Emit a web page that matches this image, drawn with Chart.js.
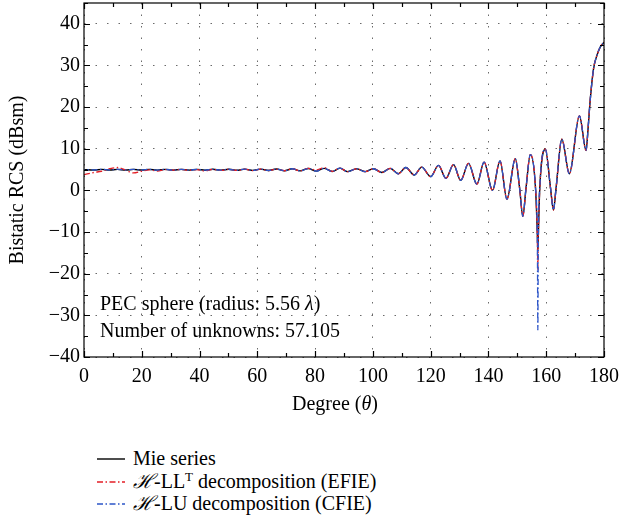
<!DOCTYPE html>
<html>
<head>
<meta charset="utf-8">
<title>Bistatic RCS</title>
<script src="https://cdn.jsdelivr.net/npm/chart.js@4/dist/chart.umd.min.js"></script>
<style>
  html, body { margin: 0; padding: 0; background: #fff; }
  body { width: 622px; height: 525px; position: relative; overflow: hidden;
         font-family: "Liberation Serif", "Times New Roman", serif; color: #000; }
  #wrap { position: absolute; left: 0; top: 0; width: 622px; height: 420px; }
  .note { position: absolute; left: 100px; font-size: 20px; line-height: 20px; white-space: nowrap; }
  #tituloX { position: absolute; left: 235px; width: 200px; top: 392px; text-align: center;
             font-size: 20px; line-height: 22px; }
  .leg { position: absolute; left: 97px; height: 22px; font-size: 20px; line-height: 22px; white-space: nowrap; }
  .leg svg { position: absolute; left: 0; top: 10px; }
  .leg span { position: absolute; left: 36px; top: 0; }
  .scr { font-family: "DejaVu Serif", "Liberation Serif", serif; font-style: italic; }
  sup { font-size: 13px; line-height: 0; vertical-align: 7px; }
</style>
</head>
<body>
<div id="wrap"><canvas id="grafico"></canvas></div>

<div class="note" style="top:293px">PEC sphere (radius: 5.56 <i>λ</i>)</div>
<div class="note" style="top:320px">Number of unknowns: 57.105</div>
<div id="tituloX">Degree (<i>θ</i>)</div>

<div class="leg" style="top:447px">
  <svg width="30" height="4"><line x1="0" y1="2" x2="28" y2="2" stroke="#000" stroke-width="1.4"/></svg>
  <span>Mie series</span>
</div>
<div class="leg" style="top:470px">
  <svg width="30" height="4"><line x1="0" y1="2" x2="28" y2="2" stroke="rgb(228,30,38)" stroke-width="1.3" stroke-dasharray="6 2.5 1.5 2.5"/></svg>
  <span><span class="scr" style="position:static">ℋ</span>-LL<sup>T</sup> decomposition (EFIE)</span>
</div>
<div class="leg" style="top:492px">
  <svg width="30" height="4"><line x1="0" y1="2" x2="28" y2="2" stroke="rgb(45,85,200)" stroke-width="1.3" stroke-dasharray="6 2.5 1.5 2.5"/></svg>
  <span><span class="scr" style="position:static">ℋ</span>-LU decomposition (CFIE)</span>
</div>

<script>
// angle grid (degrees) shared by the three curves
const graus = [
  0, 3.4, 6.1, 8.9, 11.6, 14.4, 17.1, 19.9, 22.6, 25.4,
  28.1, 30.9, 33.6, 36.4, 39.1, 41.9, 44.6, 47.4, 50.1, 52.9,
  55.6, 58.4, 61.1, 63.9, 66.6, 69.4, 72.1, 74.9, 77.6, 80.4,
  83.1, 85.9, 88.6, 91.2, 94.4, 97.3, 100.2, 103.1, 106.0, 108.8,
  111.4, 114.3, 116.9, 120.0, 122.7, 125.3, 127.9, 130.4, 133.1, 136.0,
  138.5, 141.4, 144.0, 146.4, 149.3, 150.8, 151.9, 153.0, 154.5, 156.3,
  156.95, 157.1, 157.25, 157.8, 159.7, 161.5, 162.5, 163.4, 165.4, 168.0,
  171.5, 173.8, 174.5, 175.2, 176.4, 177.5, 178.6, 180
];

// Mie series (dBsm)
const mie = [
  5.0, 4.9, 5.05, 4.9, 5.05, 4.9, 5.05, 4.9, 5.05, 4.88,
  5.05, 4.88, 5.05, 4.87, 5.06, 4.85, 5.07, 4.85, 5.08, 4.83,
  5.1, 4.8, 5.12, 4.78, 5.15, 4.72, 5.2, 4.68, 5.25, 4.62,
  5.3, 4.55, 5.35, 4.5, 5.2, 4.5, 5.2, 4.3, 5.3, 4.0,
  5.5, 3.7, 5.6, 3.3, 6.0, 2.9, 6.2, 2.4, 6.5, 1.5,
  6.8, 0.0, 7.1, -2.1, 7.6, 0.5, -6.2, 0.5, 8.6, 0.5,
  -11, -14.5, -11, 1.0, 9.9, 0.5, -4.7, 0.5, 12.3, 4.0,
  17.9, 9.6, 15.0, 21.5, 29.3, 32.3, 34.3, 35.6
];

// H-LL^T decomposition (EFIE)
const efie = [
  3.8, 4.3, 4.6, 5.2, 5.5, 4.9, 4.2, 4.6, 4.95, 4.65,
  5.0, 4.85, 5.05, 4.85, 5.0, 4.7, 5.05, 4.8, 5.1, 4.8,
  5.1, 4.75, 5.12, 4.78, 5.1, 4.72, 5.2, 4.7, 5.3, 4.9,
  5.5, 4.55, 5.35, 4.5, 5.2, 4.5, 5.2, 4.3, 5.3, 4.0,
  5.5, 3.7, 5.6, 3.3, 6.0, 2.9, 6.2, 2.4, 6.5, 1.5,
  6.8, 0.0, 7.1, -2.1, 7.6, 0.5, -6.2, 0.5, 8.6, 0.5,
  -12, -19, -12, 1.0, 9.9, 0.5, -4.7, 0.5, 12.3, 4.0,
  17.9, 9.6, 15.0, 21.5, 29.3, 32.3, 34.3, 35.6
];

// H-LU decomposition (CFIE)
const cfie = [
  5.0, 4.9, 5.05, 4.9, 5.05, 4.9, 5.05, 4.9, 5.05, 4.88,
  5.05, 4.88, 5.05, 4.87, 5.06, 4.85, 5.07, 4.85, 5.08, 4.83,
  5.1, 4.8, 5.12, 4.78, 5.15, 4.72, 5.2, 4.68, 5.25, 4.62,
  5.3, 4.55, 5.35, 4.5, 5.2, 4.5, 5.2, 4.3, 5.3, 4.0,
  5.5, 3.7, 5.6, 3.3, 6.0, 2.9, 6.2, 2.4, 6.5, 1.5,
  6.8, 0.0, 7.1, -2.1, 7.6, 0.5, -6.2, 0.5, 8.6, 0.5,
  -14, -33.5, -14, 1.0, 9.9, 0.5, -4.7, 0.5, 12.3, 4.0,
  17.9, 9.6, 15.0, 21.5, 29.3, 32.3, 34.3, 35.6
];

const ticksY = [-40, -30, -20, -10, 0, 10, 20, 30, 40];
const ticksX = [0, 20, 40, 60, 80, 100, 120, 140, 160, 180];

const fonte = { family: "'Liberation Serif', 'Times New Roman', serif", size: 20 };
const tracoPonto = [6, 2.5, 1.5, 2.5];

function pontos(valores) {
  return graus.map((g, i) => ({ x: g, y: valores[i] }));
}

// box with inward ticks on all four sides (MATLAB style)
const moldura = {
  id: "moldura",
  afterDraw(chart) {
    const { ctx, chartArea: a, scales } = chart;
    const sx = scales.x, sy = scales.y;
    ctx.save();
    ctx.strokeStyle = "#000";
    ctx.lineWidth = 1.2;
    ctx.strokeRect(a.left, a.top, a.right - a.left, a.bottom - a.top);
    ctx.beginPath();
    for (let v = 0; v <= 180; v += 10) {
      const px = Math.round(sx.getPixelForValue(v)) + 0.5;
      const len = v % 20 === 0 ? 6 : 4;
      ctx.moveTo(px, a.bottom); ctx.lineTo(px, a.bottom - len);
      ctx.moveTo(px, a.top); ctx.lineTo(px, a.top + len);
    }
    for (let v = -40; v <= 45; v += 5) {
      const py = Math.round(sy.getPixelForValue(v)) + 0.5;
      const len = v % 10 === 0 ? 6 : 4;
      ctx.moveTo(a.left, py); ctx.lineTo(a.left + len, py);
      ctx.moveTo(a.right, py); ctx.lineTo(a.right - len, py);
    }
    ctx.stroke();
    ctx.restore();
  }
};

const grafico = new Chart(document.getElementById("grafico"), {
  type: "line",
  data: {
    datasets: [
      {
        label: "Mie series",
        data: pontos(mie),
        borderColor: "#000",
        borderWidth: 1.4,
        order: 3
      },
      {
        label: "H-LLT decomposition (EFIE)",
        data: pontos(efie),
        borderColor: "rgb(228,30,38)",
        borderWidth: 1.3,
        borderDash: tracoPonto,
        order: 2
      },
      {
        label: "H-LU decomposition (CFIE)",
        data: pontos(cfie),
        borderColor: "rgb(45,85,200)",
        borderWidth: 1.3,
        borderDash: tracoPonto,
        borderDashOffset: 5,
        order: 1
      }
    ]
  },
  options: {
    responsive: true,
    maintainAspectRatio: false,
    animation: false,
    layout: { padding: { top: 3, right: 18, left: 0, bottom: 0 } },
    elements: {
      point: { radius: 0 },
      line: { cubicInterpolationMode: "monotone", fill: false }
    },
    plugins: { legend: { display: false }, tooltip: { enabled: false } },
    scales: {
      x: {
        type: "linear",
        min: 0,
        max: 180,
        afterBuildTicks: (s) => { s.ticks = ticksX.map((v) => ({ value: v })); },
        afterFit: (s) => { s.height = 63; s.paddingLeft = 0; s.paddingRight = 0; },
        ticks: { font: fonte, color: "#000", padding: 8, maxRotation: 0 },
        grid: { color: "#6a6a6a", lineWidth: 1, drawTicks: false },
        border: { display: false, dash: [1.5, 10] }
      },
      y: {
        type: "linear",
        min: -40,
        max: 45,
        afterBuildTicks: (s) => { s.ticks = ticksY.map((v) => ({ value: v })); },
        afterFit: (s) => { s.width = 84; s.paddingTop = 0; s.paddingBottom = 0; },
        ticks: {
          font: fonte,
          color: "#000",
          padding: 4,
          callback: (v) => (v < 0 ? "\u2212" + Math.abs(v) : String(v))
        },
        grid: { color: "#6a6a6a", lineWidth: 1, drawTicks: false },
        border: { display: false, dash: [1.5, 10] },
        title: { display: true, text: "Bistatic RCS (dBsm)", font: fonte, color: "#000", padding: { top: 6, bottom: 0 } }
      }
    }
  },
  plugins: [moldura]
});
</script>
</body>
</html>
